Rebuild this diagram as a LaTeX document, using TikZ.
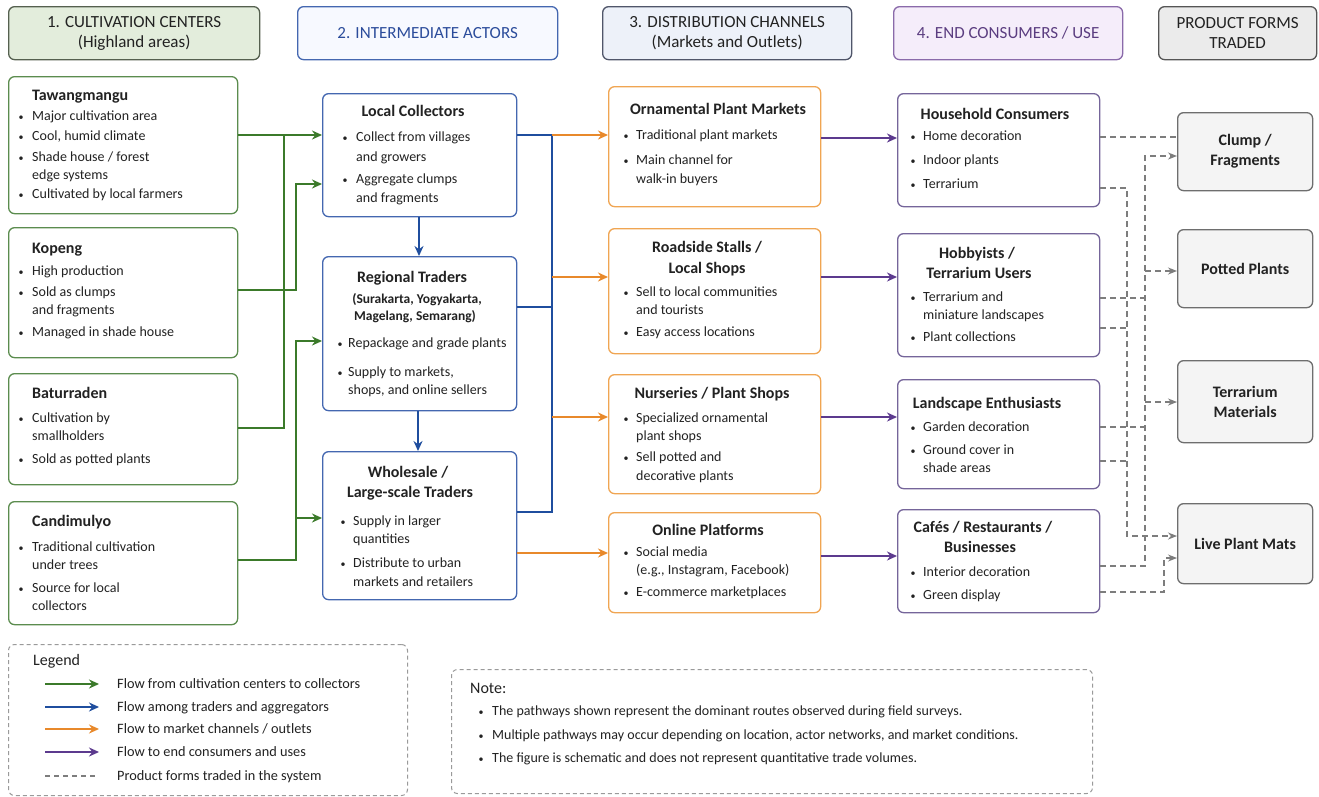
\documentclass[tikz,border=0pt]{standalone}
\usepackage{fontspec}
\setmainfont{Carlito}
\usetikzlibrary{arrows.meta}
\definecolor{txtc}{HTML}{222222}
\definecolor{garr}{HTML}{3B7A2A}
\definecolor{gbrd}{HTML}{5B8C4E}
\definecolor{barr}{HTML}{1F4E9E}
\definecolor{bbrd}{HTML}{4467B0}
\definecolor{oarr}{HTML}{E8892B}
\definecolor{obrd}{HTML}{F0A552}
\definecolor{parr}{HTML}{5C3A8E}
\definecolor{pbrd}{HTML}{75659A}
\definecolor{dgray}{HTML}{7D7D7D}
\definecolor{ffill}{HTML}{F4F4F4}
\definecolor{fbrd}{HTML}{6E6E6E}
\definecolor{hAf}{HTML}{E3EDDC}
\definecolor{hAd}{HTML}{55604F}
\definecolor{hBf}{HTML}{F7F9FF}
\definecolor{hBt}{HTML}{2B4C9B}
\definecolor{hCf}{HTML}{EDF1F9}
\definecolor{hCd}{HTML}{50566A}
\definecolor{hDf}{HTML}{F5EDFA}
\definecolor{hDd}{HTML}{8A6AAA}
\definecolor{hDt}{HTML}{5B3D80}
\definecolor{hEf}{HTML}{EBEBEB}
\definecolor{hEd}{HTML}{555555}
\definecolor{legd}{HTML}{9A9A9A}

\tikzset{
  box/.style={draw, rounded corners=6pt, line width=1.3pt, inner sep=0pt, fill=white},
  gbox/.style={box, draw=gbrd},
  bbox/.style={box, draw=bbrd},
  obox/.style={box, draw=obrd},
  pbox/.style={box, draw=pbrd},
  fbox/.style={box, draw=fbrd, fill=ffill, text=txtc, align=center,
    font=\fontsize{16}{20}\selectfont\bfseries},
  hdr/.style={box, align=center, text=txtc, font=\fontsize{17}{20}\selectfont},
  dbox/.style={draw=legd, dashed, dash pattern=on 4pt off 3pt, rounded corners=6pt, line width=1pt, inner sep=0pt},
  txt/.style={inner sep=0pt, text=txtc, font=\fontsize{14}{16}\selectfont, text height=10.5pt, text depth=2pt},
  ltx/.style={txt, font=\fontsize{14.3}{16}\selectfont},
  sub/.style={txt, font=\fontsize{13.5}{16}\selectfont\bfseries},
  ttl/.style={inner sep=0pt, text=txtc, font=\fontsize{16}{19}\selectfont\bfseries, text height=12pt, text depth=2pt},
  lgt/.style={inner sep=0pt, text=txtc, font=\fontsize{16}{19}\selectfont, text height=12pt, text depth=2pt},
  arr/.style={line width=1.8pt, -{Stealth[length=10pt,width=9pt]}},
  garrow/.style={arr, draw=garr},
  gline/.style={line width=1.8pt, draw=garr},
  barrow/.style={arr, draw=barr},
  bline/.style={line width=1.8pt, draw=barr},
  oarrow/.style={arr, draw=oarr},
  parrow/.style={arr, draw=parr},
  dline/.style={draw=dgray, line width=1.3pt, dash pattern=on 6pt off 4pt},
  darrow/.style={dline, -{Stealth[length=9pt,width=7pt]}},
}

% box: style, name, x1, y1, x2, y2, text
\newcommand\bx[7]{\node[#1, anchor=north west, minimum width={#5-#3}, minimum height={#6-#4}] (#2) at (#3,#4) {#7};}
% left title
\newcommand\lti[3]{\node[ttl, anchor=west] at (#1,#2) {#3};}
% centred title
\newcommand\cti[3]{\node[ttl, anchor=center] at (#1,#2) {#3};}
% centred sub line
\newcommand\csb[3]{\node[sub, anchor=center] at (#1,#2) {#3};}
% plain text line
\newcommand\tln[3]{\node[txt, anchor=west] at (#1,#2) {#3};}
% legend text line
\newcommand\lln[3]{\node[ltx, anchor=west] at (#1,#2) {#3};}
% bullet line: bullet x, text x, y, text
\newcommand\bul[4]{\node[txt, anchor=center] at (#1,#3) {\fontsize{10}{10}\selectfont\textbullet}; \node[txt, anchor=west] at (#2,#3) {#4};}

\begin{document}
\begin{tikzpicture}[x=1pt, y=-1pt]
\useasboundingbox[fill=white] (0,0) rectangle (1319,796);

% ---------- headers ----------
\bx{hdr, fill=hAf, draw=hAd}{hA}{8}{6}{259}{59}{1. CULTIVATION CENTERS\\(Highland areas)}
\bx{hdr, fill=hBf, draw=bbrd, text=hBt}{hB}{297}{6}{557}{59}{2. INTERMEDIATE ACTORS}
\bx{hdr, fill=hCf, draw=hCd}{hC}{602}{6}{851}{59}{3. DISTRIBUTION CHANNELS\\(Markets and Outlets)}
\bx{hdr, fill=hDf, draw=hDd, text=hDt}{hD}{893}{6}{1122}{59}{4. END CONSUMERS / USE}
\bx{hdr, fill=hEf, draw=hEd}{hE}{1158}{6}{1316}{59}{PRODUCT FORMS\\TRADED}

% ---------- column 1 ----------
\bx{gbox}{taw}{8}{76}{237}{213}{}
\lti{32}{95}{Tawangmangu}
\bul{21}{32}{116}{Major cultivation area}
\bul{21}{32}{136}{Cool, humid climate}
\bul{21}{32}{157}{Shade house / forest}
\tln{32}{175}{edge systems}
\bul{21}{32}{194}{Cultivated by local farmers}

\bx{gbox}{kop}{8}{227}{237}{357}{}
\lti{32}{248}{Kopeng}
\bul{21}{32}{271}{High production}
\bul{21}{32}{292}{Sold as clumps}
\tln{32}{310}{and fragments}
\bul{21}{32}{332}{Managed in shade house}

\bx{gbox}{bat}{8}{373}{237}{484}{}
\lti{32}{393}{Baturraden}
\bul{21}{32}{418}{Cultivation by}
\tln{32}{436}{smallholders}
\bul{21}{32}{459}{Sold as potted plants}

\bx{gbox}{can}{8}{501}{237}{624}{}
\lti{32}{521}{Candimulyo}
\bul{21}{32}{547}{Traditional cultivation}
\tln{32}{565}{under trees}
\bul{21}{32}{588}{Source for local}
\tln{32}{606}{collectors}

% ---------- column 2 ----------
\bx{bbox}{lc}{322}{93}{516}{216}{}
\cti{413}{111}{Local Collectors}
\bul{345}{356}{137}{Collect from villages}
\tln{356}{157}{and growers}
\bul{345}{356}{179}{Aggregate clumps}
\tln{356}{198}{and fragments}

\bx{bbox}{rt}{322}{256}{516}{410}{}
\cti{412}{277}{Regional Traders}
\csb{417}{299}{(Surakarta, Yogyakarta,}
\csb{415}{316}{Magelang, Semarang)}
\bul{340}{348}{343}{Repackage and grade plants}
\bul{340}{348}{372}{Supply to markets,}
\tln{348}{390}{shops, and online sellers}

\bx{bbox}{ws}{322}{451}{516}{599}{}
\cti{408}{472}{Wholesale /}
\cti{410}{492}{Large-scale Traders}
\bul{343}{353}{521}{Supply in larger}
\tln{353}{539}{quantities}
\bul{343}{353}{563}{Distribute to urban}
\tln{353}{582}{markets and retailers}

% ---------- column 3 ----------
\bx{obox}{om}{608}{86}{820}{206}{}
\cti{718}{109}{Ornamental Plant Markets}
\bul{626}{636}{135}{Traditional plant markets}
\bul{626}{636}{160}{Main channel for}
\tln{636}{179}{walk-in buyers}

\bx{obox}{rs}{608}{228}{820}{353}{}
\cti{707}{247}{Roadside Stalls /}
\cti{707}{268}{Local Shops}
\bul{626}{636}{292}{Sell to local communities}
\tln{636}{310}{and tourists}
\bul{626}{636}{332}{Easy access locations}

\bx{obox}{nu}{608}{374}{820}{493}{}
\cti{712}{393}{Nurseries / Plant Shops}
\bul{626}{636}{418}{Specialized ornamental}
\tln{636}{436}{plant shops}
\bul{626}{636}{457}{Sell potted and}
\tln{636}{476}{decorative plants}

\bx{obox}{op}{608}{512}{820}{612}{}
\cti{708}{530}{Online Platforms}
\bul{626}{636}{552}{Social media}
\tln{636}{570}{(e.g., Instagram, Facebook)}
\bul{626}{636}{592}{E-commerce marketplaces}

% ---------- column 4 ----------
\bx{pbox}{hh}{897}{93}{1099}{206}{}
\cti{995}{114}{Household Consumers}
\bul{913}{923}{136}{Home decoration}
\bul{913}{923}{160}{Indoor plants}
\bul{913}{923}{184}{Terrarium}

\bx{pbox}{hob}{897}{233}{1099}{356}{}
\cti{977}{253}{Hobbyists /}
\cti{979}{273}{Terrarium Users}
\bul{913}{923}{297}{Terrarium and}
\tln{923}{315}{miniature landscapes}
\bul{913}{923}{337}{Plant collections}

\bx{pbox}{ls}{897}{379}{1099}{488}{}
\cti{987}{403}{Landscape Enthusiasts}
\bul{913}{923}{427}{Garden decoration}
\bul{913}{923}{450}{Ground cover in}
\tln{923}{468}{shade areas}

\bx{pbox}{cafe}{897}{509}{1099}{612}{}
\cti{983}{527}{Cafés / Restaurants /}
\cti{980}{547}{Businesses}
\bul{913}{923}{572}{Interior decoration}
\bul{913}{923}{595}{Green display}

% ---------- column 5 ----------
\bx{fbox}{clump}{1177}{112}{1312}{190}{Clump /\\Fragments}
\bx{fbox}{pp}{1177}{229}{1312}{307}{Potted Plants}
\bx{fbox}{tm}{1177}{360}{1312}{442}{Terrarium\\Materials}
\bx{fbox}{lpm}{1177}{503}{1312}{583}{Live Plant Mats}

% ---------- green connectors ----------
\draw[garrow] (taw.east |- 0,135) -- (lc.west |- 0,135);
\draw[gline] (bat.east |- 0,428) -| (284,135);
\draw[garrow] (kop.east |- 0,290) -| (296,184) -- (lc.west |- 0,184);
\draw[garrow] (can.east |- 0,560) -| (296,341) -- (rt.west |- 0,341);
\draw[garrow] (296,518) -- (ws.west |- 0,518);

% ---------- blue connectors ----------
\draw[bline] (lc.east |- 0,135) -| (552,512) -- (ws.east |- 0,512);
\draw[bline] (rt.east |- 0,307) -- (552,307);
\draw[barrow] (lc.south -| 419,0) -- (rt.north -| 419,0);
\draw[barrow] (rt.south -| 418,0) -- (ws.north -| 418,0);

% ---------- orange connectors ----------
\draw[oarrow] (552,135) -- (om.west |- 0,135);
\draw[oarrow] (552,277) -- (rs.west |- 0,277);
\draw[oarrow] (552,417) -- (nu.west |- 0,417);
\draw[oarrow] (ws.east |- 0,553) -- (op.west |- 0,553);

% ---------- purple connectors ----------
\draw[parrow] (om.east |- 0,138) -- (hh.west |- 0,138);
\draw[parrow] (rs.east |- 0,277) -- (hob.west |- 0,277);
\draw[parrow] (nu.east |- 0,417) -- (ls.west |- 0,417);
\draw[parrow] (op.east |- 0,556) -- (cafe.west |- 0,556);

% ---------- dashed product-form connectors ----------
\draw[dline] (hh.east |- 0,137) -- (clump.west |- 0,137);
\draw[darrow] (hh.east |- 0,188) -| (1127,536) -- (lpm.west |- 0,536);
\draw[dline] (hob.east |- 0,328) -- (1127,328);
\draw[dline] (ls.east |- 0,461) -- (1127,461);
\draw[dline] (hob.east |- 0,298) -- (1145,298);
\draw[dline] (ls.east |- 0,427) -- (1145,427);
\draw[darrow] (cafe.east |- 0,566) -| (1145,156) -- (clump.west |- 0,156);
\draw[darrow] (1145,271) -- (pp.west |- 0,271);
\draw[darrow] (1145,402) -- (tm.west |- 0,402);
\draw[darrow] (cafe.east |- 0,592) -| (1164,558) -- (lpm.west |- 0,558);

% ---------- legend ----------
\node[dbox, anchor=north west, minimum width=399, minimum height=151] (legend) at (8,644) {};
\node[lgt, anchor=west] (legtitle) at (33,660) {Legend};
\coordinate (la1) at (45,684); \coordinate (lb1) at (99,684);
\coordinate (la2) at (45,707); \coordinate (lb2) at (99,707);
\coordinate (la3) at (45,729); \coordinate (lb3) at (99,729);
\coordinate (la4) at (45,752); \coordinate (lb4) at (99,752);
\coordinate (la5) at (45,776); \coordinate (lb5) at (97,776);
\draw[garrow] (la1) -- (lb1);
\draw[barrow] (la2) -- (lb2);
\draw[oarrow] (la3) -- (lb3);
\draw[parrow] (la4) -- (lb4);
\draw[dline, dash pattern=on 5pt off 4pt] (la5) -- (lb5);
\lln{117}{684}{Flow from cultivation centers to collectors}
\lln{117}{707}{Flow among traders and aggregators}
\lln{117}{729}{Flow to market channels / outlets}
\lln{117}{752}{Flow to end consumers and uses}
\lln{117}{776}{Product forms traded in the system}

% ---------- note ----------
\node[dbox, anchor=north west, minimum width=641, minimum height=124] (note) at (451,669) {};
\node[lgt, anchor=west] (notetitle) at (470,688) {Note:};
\bul{481}{492}{711}{The pathways shown represent the dominant routes observed during field surveys.}
\bul{481}{492}{735}{Multiple pathways may occur depending on location, actor networks, and market conditions.}
\bul{481}{492}{758}{The figure is schematic and does not represent quantitative trade volumes.}
\end{tikzpicture}
\end{document}
